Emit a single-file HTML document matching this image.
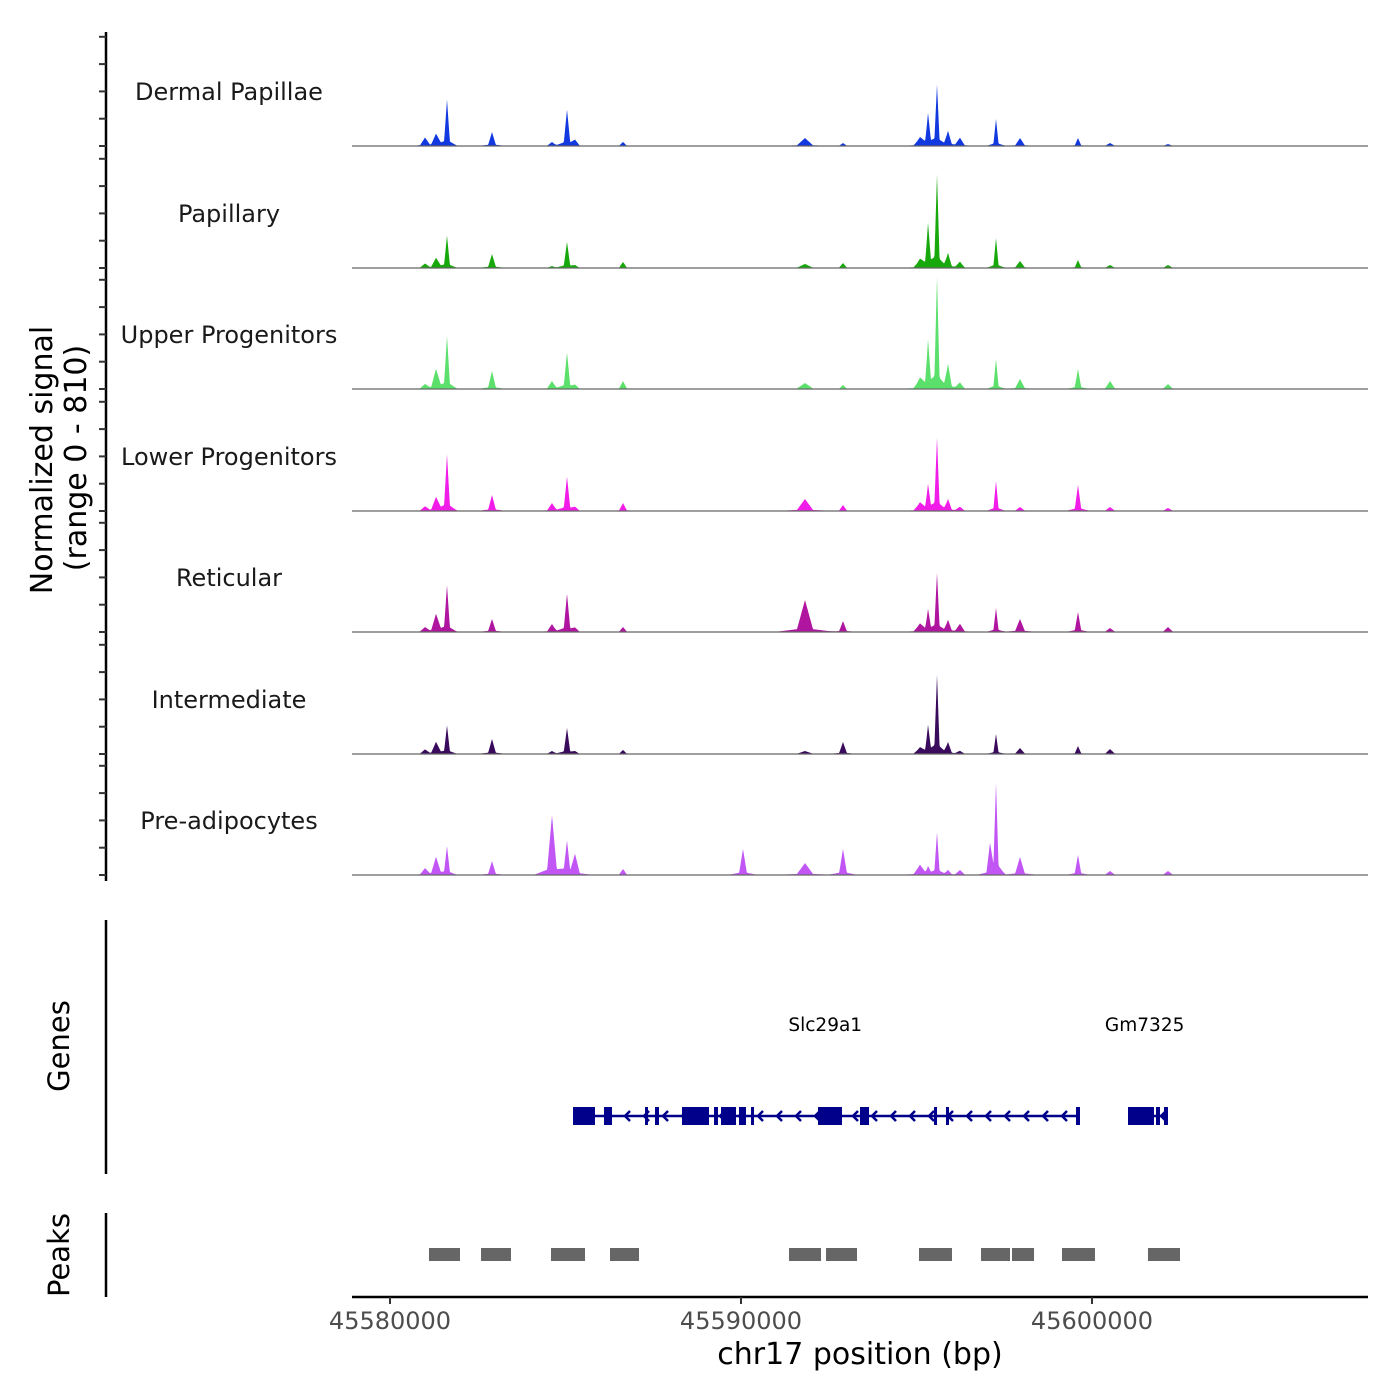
<!DOCTYPE html>
<html><head><meta charset="utf-8"><style>
html,body{margin:0;padding:0;background:#fff}
svg{display:block}
text{font-family:"DejaVu Sans","Liberation Sans",sans-serif}
</style></head><body>
<svg id="chart" width="1400" height="1400" viewBox="0 0 1400 1400" xmlns="http://www.w3.org/2000/svg">
<g id="tracks"></g>
<g id="yaxis"></g>
<text transform="translate(52,460) rotate(-90)" text-anchor="middle" font-size="30" fill="#000">Normalized signal</text>
<text transform="translate(86,458) rotate(-90)" text-anchor="middle" font-size="30" fill="#000">(range 0 - 810)</text>
<g id="genes"></g>
<line x1="106" y1="920" x2="106" y2="1174" stroke="#000" stroke-width="2.5"/>
<text transform="translate(69,1046) rotate(-90)" text-anchor="middle" font-size="29">Genes</text>
<g id="peaks"></g>
<line x1="106" y1="1213" x2="106" y2="1297" stroke="#000" stroke-width="2.5"/>
<text transform="translate(69,1255) rotate(-90)" text-anchor="middle" font-size="29">Peaks</text>
<g id="xaxis"></g>
<text x="860" y="1364" text-anchor="middle" font-size="30">chr17 position (bp)</text>
</svg>
<script>
const trackNames = ["Dermal Papillae","Papillary","Upper Progenitors","Lower Progenitors","Reticular","Intermediate","Pre-adipocytes"];
const trackColors = ["#1239e0","#17a80b","#5be06b","#f21ce9","#b0159f","#3a0b5c","#c156f5"];
const peakPos = [45580997,45581311,45581624,45582906,45584615,45585043,45585271,45586638,45590057,45591823,45592906,45595100,45595328,45595584,45595897,45596239,45597094,45597265,45597949,45599601,45600513,45602165];
const peakWidth = [150,150,90,120,150,100,150,120,120,250,120,200,90,80,120,150,110,80,150,100,150,150];
const sigDermal = [53,80,306,93,27,240,33,27,0,53,20,53,213,400,100,53,0,180,53,53,20,13];
const sigPapillary = [27,67,213,93,13,173,13,40,0,27,33,53,293,613,100,40,0,200,47,53,20,20];
const sigUpper = [27,133,346,120,53,240,20,53,0,40,27,67,320,733,167,40,0,200,67,133,53,33];
const sigLower = [27,93,373,107,53,226,20,53,0,80,40,53,173,480,80,27,0,200,27,173,27,20];
const sigReticular = [27,120,306,87,53,253,20,33,0,213,73,53,147,386,80,53,0,160,87,133,27,33];
const sigIntermediate = [27,80,187,100,20,173,13,27,0,20,80,40,187,520,80,20,0,133,40,53,33,0];
const sigPreadipocytes = [40,120,187,93,400,213,133,40,173,80,173,67,53,280,33,33,187,600,120,133,27,27];
const allSignals = [sigDermal,sigPapillary,sigUpper,sigLower,sigReticular,sigIntermediate,sigPreadipocytes];
const yMax = 810;
const xTicks = [45580000,45590000,45600000];
const xTickLabels = ["45580000","45590000","45600000"];
const geneNames = ["Slc29a1","Gm7325"];
const geneLabelPos = [45592400,45601500];
const geneStart = [45585214,45601026];
const geneEnd = [45599658,45602165];
const exonStart = [45585214,45586097,45587265,45587550,45588319,45589231,45589430,45589943,45590285,45592194,45593390,45595499,45595840,45599544,45601026,45601823,45602051];
const exonEnd = [45585840,45586325,45587350,45587664,45589088,45589345,45589858,45590142,45590370,45592877,45593647,45595584,45595926,45599658,45601766,45601937,45602165];
const peakStart = [45581111,45582593,45584587,45586268,45591368,45592422,45595071,45596838,45597721,45599145,45601595];
const peakEnd = [45581994,45583447,45585556,45587094,45592279,45593305,45596011,45597664,45598348,45600085,45602507];

const NS='http://www.w3.org/2000/svg';
const L=352,R=1368;
const xs = bp => 390 + (bp-45580000)*0.0351;
const bpAt = px => 45580000 + (px-390)/0.0351;
const baselines=[146,268,389,511,632,754,875];
const trackH=121.6;
function mk(tag,attrs,parent){const e=document.createElementNS(NS,tag);for(const k in attrs)e.setAttribute(k,attrs[k]);parent.appendChild(e);return e;}
const tracks=document.getElementById('tracks');
allSignals.forEach((sig,t)=>{
  const b=baselines[t];
  const ys=v=>b - v/yMax*trackH;
  let d='M'+L+','+b;
  for(let px=L;px<=R;px+=0.5){
    const bp=bpAt(px);let v=0;
    for(let i=0;i<peakPos.length;i++){
      const dx=Math.abs(bp-peakPos[i]);const w=peakWidth[i];
      const spike=Math.max(0,1-dx/w);
      const shoulder=Math.max(0,1-dx/(w*3.5))*0.12;
      v+=sig[i]*Math.max(spike,shoulder);
    }
    d+=' L'+px.toFixed(1)+','+ys(v).toFixed(2);
  }
  d+=' L'+R+','+b+' Z';
  const p=mk('path',{d:d,fill:trackColors[t],stroke:'none'},tracks);
  
  
  const ln=mk('line',{x1:L,x2:R,y1:b,y2:b,stroke:'#666','stroke-width':1.2},tracks);
  
  
  const tx=mk('text',{x:229,y:b-46,'text-anchor':'middle','font-size':24,fill:'#1a1a1a'},tracks);
  tx.textContent=trackNames[t];
  
  
});
const ya=document.getElementById('yaxis');
const yl=mk('line',{x1:106,x2:106,y1:32,y2:881,stroke:'#000','stroke-width':2.5},ya);


baselines.forEach(b=>{
  for(let k=0;k<5;k++){
    const y=b-k*27.3; if(y<33)continue;
    const tk=mk('line',{x1:99,x2:106,y1:y,y2:y,stroke:'#333','stroke-width':2},ya);
    
    
  }
});
const g=document.getElementById('genes');const gy=1116,gc='#00008b';
geneStart.forEach((s,i)=>{
  const x1=xs(s),x2=xs(geneEnd[i]);
  const gl=mk('line',{x1:x1,x2:x2,y1:gy,y2:gy,stroke:gc,'stroke-width':2.5},g);
  
  
  for(let x=x1+14;x<x2-6;x+=19){
    const a=mk('path',{d:`M${x+5},${gy-5} L${x},${gy} L${x+5},${gy+5}`,fill:'none',stroke:gc,'stroke-width':2.5},g);
    
    
  }
  const t=mk('text',{x:xs(geneLabelPos[i]),y:1031,'text-anchor':'middle','font-size':18.5,fill:'#000'},g);
  t.textContent=geneNames[i];
  
  
});
exonStart.forEach((s,i)=>{
  const x1=xs(s),w=Math.max(3,xs(exonEnd[i])-x1);
  const r=mk('rect',{x:x1,y:gy-9,width:w,height:18,fill:gc},g);
  
  
});
const pk=document.getElementById('peaks');
peakStart.forEach((s,i)=>{
  const r=mk('rect',{x:xs(s),y:1248,width:xs(peakEnd[i])-xs(s),height:13,fill:'#666'},pk);
  
  
});
const xa=document.getElementById('xaxis');
const xl=mk('line',{x1:L,x2:R,y1:1297,y2:1297,stroke:'#000','stroke-width':2.5},xa);


xTicks.forEach((v,i)=>{
  const x=xs(v);
  const t=mk('line',{x1:x,x2:x,y1:1297,y2:1304,stroke:'#333','stroke-width':2},xa);
  
  
  const tx=mk('text',{x:x,y:1329,'text-anchor':'middle','font-size':24,fill:'#4d4d4d'},xa);
  tx.textContent=xTickLabels[i];
  
  
});
</script>
</body></html>
